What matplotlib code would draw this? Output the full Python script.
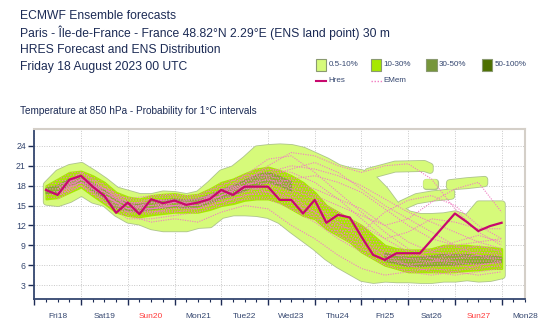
import numpy as np
import matplotlib
matplotlib.use("Agg")
import matplotlib.pyplot as plt
from matplotlib.patches import Rectangle
from matplotlib.lines import Line2D

plt.rcParams['font.family'] = ['Liberation Sans', 'DejaVu Sans']
plt.rcParams['hatch.linewidth'] = 0.6

# hours since Fri18 00, 6-hourly
steps = np.arange(6, 241, 6)
hres = [17.35, 16.6, 18.9, 19.5, 17.85, 16.45, 13.9, 15.45, 13.7, 15.95,
        15.35, 15.75, 15.1, 15.45, 15.95, 17.35, 16.6, 17.85, 17.85, 17.85,
        15.85, 15.85, 13.8, 15.85, 12.4, 13.6, 13.2, 10.3, 7.55, 6.8,
        7.8, 7.8, 7.8, 9.8, 11.8, 13.8, 12.55, 11.15, 11.9, 12.4]

# 0.5-10% envelope (main body)
env_lo = [15.6, 15.4, 16.0, 17.0, 15.9, 15.4, 13.9, 12.9, 12.6, 11.9,
          11.6, 11.6, 11.6, 12.1, 12.2, 13.6, 14.0, 14.0, 13.9, 13.6,
          12.8, 11.4, 10.1, 8.8, 7.3, 6.1, 5.1, 4.1, 3.8, 4.0,
          3.9, 3.9, 3.8, 3.8, 4.0, 4.0, 4.2, 4.0, 4.1, 4.5]
env_hi = [18.2, 20.0, 20.8, 21.1, 20.0, 18.8, 17.4, 16.9, 16.4, 16.4,
          16.8, 16.7, 16.4, 16.8, 18.3, 20.0, 20.6, 22.0, 23.6, 23.8,
          23.9, 23.8, 23.4, 22.6, 21.8, 20.8, 20.3, 20.0, 19.2, 17.4,
          15.0, 13.8, 13.4, 13.4, 13.5, 13.8, 13.2, 15.3, 15.3, 15.3]

# detached 0.5-10% blobs: (hours, low, high)
blob_a_t, blob_a_lo, blob_a_hi = [171, 185, 200, 203], [19.5, 20.6, 20.7, 20.4], [20.2, 21.3, 21.4, 21.0]
blob_b_t, blob_b_lo, blob_b_hi = [201, 206], [18.0, 18.0], [18.6, 18.6]
blob_c_t, blob_c_lo, blob_c_hi = [213, 222, 231], [17.9, 18.1, 18.4], [18.5, 18.8, 19.0]
blob_d_t, blob_d_lo, blob_d_hi = [188, 196, 204, 214], [14.8, 15.8, 16.2, 16.5], [15.3, 16.4, 16.8, 17.1]

# 10-30% core
core_lo = [16.0, 16.2, 17.0, 17.8, 16.5, 15.3, 14.0, 13.5, 13.3, 13.6,
           13.8, 14.0, 14.0, 14.0, 14.4, 15.0, 15.3, 15.8, 16.0, 16.0,
           15.5, 14.5, 13.5, 13.0, 11.5, 10.5, 9.5, 8.0, 7.0, 6.0,
           5.5, 5.0, 5.0, 5.0, 5.0, 5.0, 5.2, 5.3, 5.5, 5.5]
core_hi = [18.0, 19.0, 20.0, 20.2, 19.5, 18.5, 17.0, 16.3, 16.0, 16.5,
           16.7, 16.8, 16.5, 16.7, 17.5, 18.5, 19.0, 19.8, 20.5, 20.8,
           20.3, 19.5, 18.5, 17.0, 15.0, 14.0, 13.0, 12.0, 10.5, 9.0,
           8.5, 8.3, 8.3, 8.5, 9.0, 9.0, 9.0, 8.8, 8.7, 8.5]

# 30-50% patches
mid_lo = [16.8, 17.0, 18.0, 18.5, 17.2, 16.0, 14.6, 14.2, 14.0, 14.4,
          14.6, 14.8, 14.6, 14.8, 15.3, 16.0, 16.5, 17.2, 18.0, 18.4,
          18.0, 17.2, np.nan, np.nan, np.nan, np.nan, np.nan, np.nan, np.nan, 6.6,
          6.2, 5.8, 5.8, 5.9, 6.0, 6.0, 6.2, 6.2, 6.4, 6.4]
mid_hi = [17.6, 18.0, 19.0, 19.4, 18.4, 17.4, 16.0, 15.4, 15.2, 15.6,
          15.8, 16.0, 15.8, 16.0, 16.6, 17.4, 18.0, 18.8, 19.6, 20.0,
          19.4, 18.6, np.nan, np.nan, np.nan, np.nan, np.nan, np.nan, np.nan, 7.8,
          7.4, 7.2, 7.2, 7.4, 7.6, 7.6, 7.6, 7.4, 7.4, 7.2]

# a few ensemble members, 12-hourly
mem_steps = np.arange(12, 241, 12)
members = [
    [17.0, 19.5, 17.0, 15.0, 16.0, 15.5, 15.5, 16.5, 18.5, 21.0, 23.0, 22.5, 21.0, 20.0, 21.0, 21.3, 19.0, 14.5, 11.0, 9.0],
    [16.5, 18.0, 16.0, 13.5, 12.5, 13.0, 12.5, 14.0, 15.0, 14.5, 12.0, 10.0, 7.5, 5.5, 4.5, 5.0, 5.5, 5.0, 4.5, 5.0],
    [17.5, 19.0, 17.5, 15.5, 15.0, 15.5, 16.0, 17.0, 18.0, 19.0, 18.0, 16.5, 15.0, 13.5, 12.0, 13.0, 15.5, 17.5, 18.5, 14.0],
    [18.0, 19.5, 16.5, 14.5, 15.5, 15.0, 15.5, 17.5, 18.0, 17.0, 16.0, 14.0, 12.0, 11.0, 14.0, 15.8, 16.5, 15.0, 12.0, 10.0],
    [17.0, 18.5, 16.5, 14.5, 14.5, 15.0, 15.0, 16.5, 17.5, 18.5, 17.0, 15.0, 12.5, 10.0, 8.0, 7.0, 6.5, 7.0, 7.5, 7.0],
    [17.5, 20.0, 18.0, 15.5, 14.0, 14.5, 15.5, 17.0, 19.0, 20.5, 20.0, 18.5, 16.0, 13.0, 10.0, 8.0, 7.0, 6.5, 6.0, 6.5],
    [16.5, 19.0, 16.5, 14.0, 14.0, 14.5, 14.5, 15.5, 16.5, 17.5, 16.0, 13.0, 10.5, 8.5, 7.0, 6.0, 6.5, 8.0, 9.0, 8.0],
    [17.0, 18.5, 17.5, 16.0, 16.5, 16.5, 16.5, 18.0, 19.5, 19.5, 18.5, 17.5, 16.0, 14.5, 12.0, 9.5, 8.0, 7.5, 8.0, 7.5],
    [16.0, 18.0, 15.5, 13.0, 13.0, 13.5, 14.0, 15.0, 16.0, 16.0, 14.5, 12.5, 10.0, 8.0, 6.0, 5.0, 4.5, 5.0, 6.0, 6.5],
    [17.5, 19.5, 16.5, 14.5, 15.0, 15.5, 15.0, 16.5, 18.0, 19.0, 17.5, 16.0, 14.0, 12.0, 10.0, 11.0, 13.0, 12.5, 11.5, 11.5],
    [17.0, 19.0, 17.0, 15.0, 14.5, 15.0, 15.5, 17.0, 19.5, 22.0, 22.5, 20.0, 17.0, 14.0, 11.0, 8.5, 7.0, 6.0, 5.5, 6.0],
    [17.5, 19.5, 17.5, 15.0, 15.0, 15.0, 15.0, 16.0, 17.0, 18.0, 19.0, 19.5, 18.5, 17.0, 14.5, 12.0, 10.0, 9.0, 9.5, 10.0],
    [16.5, 18.5, 16.5, 14.5, 14.0, 14.0, 14.5, 16.0, 17.5, 18.0, 16.5, 14.0, 11.5, 9.5, 7.5, 6.0, 5.0, 4.5, 5.0, 5.5],
    [17.0, 19.0, 17.0, 15.5, 15.5, 16.0, 16.0, 17.0, 18.5, 20.0, 21.0, 20.5, 19.5, 18.0, 16.0, 14.0, 12.5, 11.0, 9.5, 8.5],
    [17.0, 20.0, 17.5, 15.0, 14.5, 15.5, 15.5, 16.5, 18.0, 19.5, 20.5, 21.5, 20.0, 17.5, 15.0, 13.0, 11.0, 9.0, 7.5, 6.5],
    [16.5, 18.5, 16.0, 14.0, 14.5, 15.0, 14.5, 15.5, 16.5, 17.0, 15.5, 13.5, 11.0, 9.0, 7.5, 7.5, 8.0, 9.5, 10.5, 9.5],
]

day_labels = ["Fri18", "Sat19", "Sun20", "Mon21", "Tue22", "Wed23", "Thu24",
              "Fri25", "Sat26", "Sun27", "Mon28"]
sundays = {"Sun20", "Sun27"}
yticks = [3, 6, 9, 12, 15, 18, 21, 24]
legend_labels = ["0.5-10%", "10-30%", "30-50%", "50-100%"]

LIGHT, BORDER = "#d6fa7a", "#aec48e"
CORE, MID, DARK = "#a6e800", "#76963a", "#4d7000"
HRES, EMEM = "#c8086e", "#f27cc2"
NAVY, TICK = "#1c2b55", "#34466f"

fig = plt.figure(figsize=(5.41, 3.30), dpi=100)
ax = fig.add_axes([34.3 / 541, 30.7 / 330, 490.7 / 541, 170.3 / 330])

light_shapes = [(steps, env_lo, env_hi), (blob_a_t, blob_a_lo, blob_a_hi),
                (blob_b_t, blob_b_lo, blob_b_hi), (blob_c_t, blob_c_lo, blob_c_hi),
                (blob_d_t, blob_d_lo, blob_d_hi)]
for t, lo, hi in light_shapes:   # grey-green outline pass
    ax.fill_between(t, lo, hi, facecolor=LIGHT, edgecolor=BORDER, linewidth=5.2,
                    joinstyle="round", capstyle="round", zorder=2)
for t, lo, hi in light_shapes:
    ax.fill_between(t, lo, hi, facecolor=LIGHT, edgecolor=LIGHT, linewidth=4.0,
                    joinstyle="round", capstyle="round", zorder=3)

ax.fill_between(steps, core_lo, core_hi, facecolor=CORE, edgecolor=CORE, linewidth=1.5,
                joinstyle="round", zorder=4)
ax.fill_between(steps, mid_lo, mid_hi, facecolor=MID, edgecolor=MID, linewidth=1.0,
                joinstyle="round", alpha=0.6, zorder=5)
ax.fill_between(steps, core_lo, core_hi, facecolor="none", edgecolor=EMEM, linewidth=0,
                hatch="......", zorder=6)

for m in members:
    ax.plot(mem_steps, m, color=EMEM, linestyle=(0, (1, 1.2)), linewidth=0.8, zorder=7)
ax.plot(steps, hres, color=HRES, linewidth=1.6, zorder=8)

ax.set_xlim(0, 252)
ax.set_ylim(0.85, 26.55)
ax.set_xticks(np.arange(0, 253, 24))
ax.set_xticks(np.arange(0, 253, 6), minor=True)
ax.set_xticklabels([])
ax.set_yticks(yticks)
ax.set_yticklabels([str(v) for v in yticks], color=TICK, fontsize=6.3)
ax.tick_params(axis="x", which="major", length=4.5, width=1.0, color=NAVY, direction="out")
ax.tick_params(axis="x", which="minor", length=2.5, width=0.8, color=NAVY, direction="out")
ax.tick_params(axis="y", length=4, width=1.0, color=NAVY, pad=2)
ax.grid(True, which="major", color="#c8c8c8", linestyle=(0, (1, 1.5)), linewidth=0.7, zorder=0)
ax.set_axisbelow(True)
for side in ("left", "bottom"):
    ax.spines[side].set_color("#34466f")
    ax.spines[side].set_linewidth(1.3)
for side in ("top", "right"):
    ax.spines[side].set_color("#d4cfc8")
    ax.spines[side].set_linewidth(1.5)

for i, name in enumerate(day_labels):
    ax.text(12 + 24 * i, -0.1, name, transform=ax.get_xaxis_transform(),
            ha="center", va="center", fontsize=6,
            color="#ff3b3b" if name in sundays else TICK)

titles = ["ECMWF Ensemble forecasts",
          "Paris - Île-de-France - France 48.82°N 2.29°E (ENS land point) 30 m",
          "HRES Forecast and ENS Distribution",
          "Friday 18 August 2023 00 UTC"]
for i, s in enumerate(titles):
    fig.text(20 / 541, 1 - (16 + 17 * i) / 330, s, ha="left", va="center",
             fontsize=8.7, color=NAVY)
fig.text(20 / 541, 1 - 110.5 / 330, "Temperature at 850 hPa - Probability for 1°C intervals",
         ha="left", va="center", fontsize=7.2, color=NAVY)

for i, (lab, col) in enumerate(zip(legend_labels, [LIGHT, CORE, MID, DARK])):
    x0 = 315.7 + 55.3 * i
    fig.patches.append(Rectangle((x0 / 541, 1 - 71 / 330), 10.3 / 541, 11.7 / 330,
                                 transform=fig.transFigure, facecolor=col,
                                 edgecolor="#8a9a70", linewidth=0.8))
    fig.text((x0 + 12.6) / 541, 1 - 65 / 330, lab, ha="left", va="center",
             fontsize=5.8, color=TICK)
fig.add_artist(Line2D([315.7 / 541, 326 / 541], [1 - 80.7 / 330] * 2, color=HRES,
                      linewidth=1.5, transform=fig.transFigure))
fig.text(328.3 / 541, 1 - 80.7 / 330, "Hres", ha="left", va="center", fontsize=5.8, color=TICK)
fig.add_artist(Line2D([370.7 / 541, 381.7 / 541], [1 - 80.7 / 330] * 2, color=EMEM,
                      linewidth=1.0, linestyle=(0, (1, 1.2)), transform=fig.transFigure))
fig.text(383.3 / 541, 1 - 80.7 / 330, "EMem", ha="left", va="center", fontsize=5.8, color=TICK)

fig.savefig("out.png", dpi=100)
